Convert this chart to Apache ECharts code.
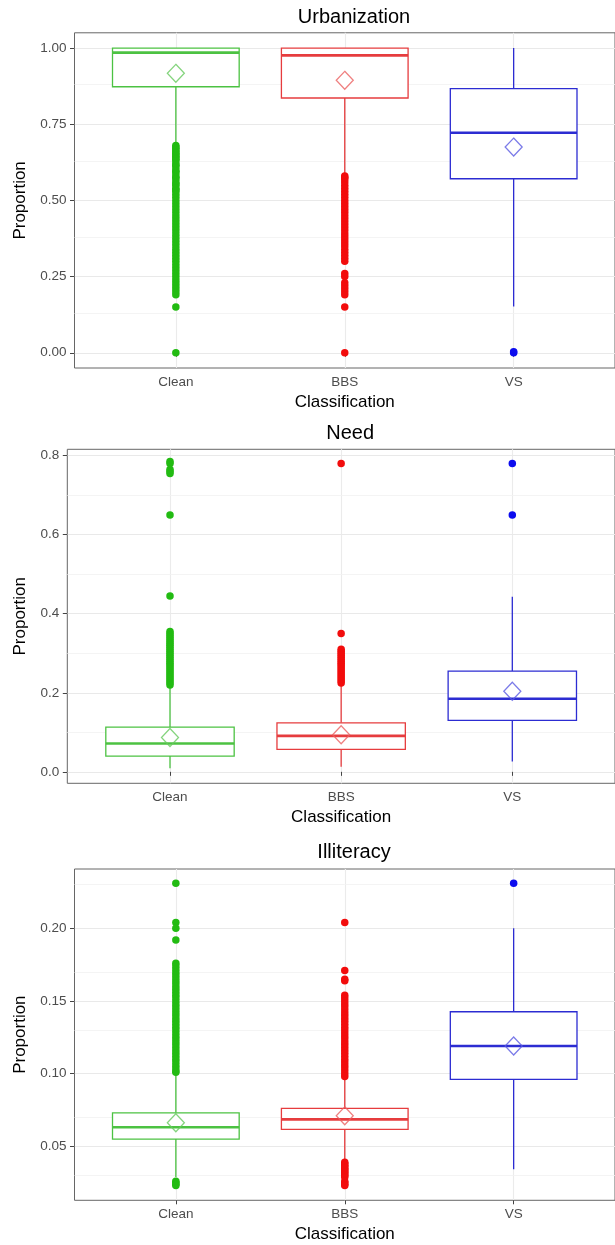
<!DOCTYPE html>
<html><head><meta charset="utf-8">
<script src="https://cdn.jsdelivr.net/npm/echarts@6/dist/echarts.min.js"></script>
<style>html,body{margin:0;padding:0;background:#fff}#c{width:615px;height:1245px}</style>
</head><body><div id="c"></div>
<script>
// ---------------- DATA ----------------
const categories = ['Clean', 'BBS', 'VS'];
const panelTitles = ['Urbanization', 'Need', 'Illiteracy'];
const xTitle = 'Classification';
const yTitle = 'Proportion';

// box stats: [lower whisker, Q1, median, Q3, upper whisker]
const urbBox = [[0.685, 0.873, 0.985, 1.0, 1.0], [0.59, 0.836, 0.976, 1.0, 1.0], [0.152, 0.571, 0.722, 0.867, 1.0]];
const urbMean = [0.917, 0.894, 0.675];
const urbOutClean = [0.68,0.675,0.67,0.665,0.66,0.655,0.65,0.645,0.64,0.635,0.63,0.62,0.615,0.61,0.6,0.595,0.59,0.58,0.575,0.57,0.56,0.555,0.55,0.54,0.535,0.53,0.52,0.51,0.5,0.49,0.48,0.47,0.46,0.45,0.44,0.43,0.42,0.41,0.4,0.39,0.38,0.37,0.36,0.35,0.34,0.33,0.32,0.31,0.3,0.29,0.28,0.27,0.26,0.25,0.24,0.23,0.22,0.21,0.2,0.19,0.15,0.0];
const urbOutBBS = [0.58,0.575,0.57,0.56,0.55,0.54,0.53,0.52,0.51,0.5,0.49,0.48,0.47,0.46,0.45,0.44,0.43,0.42,0.41,0.4,0.39,0.38,0.37,0.36,0.35,0.34,0.33,0.32,0.31,0.3,0.26,0.25,0.23,0.22,0.21,0.2,0.19,0.15,0.0];
const urbOutVS = [0.0, 0.003];
const urbTicks = [0, 0.25, 0.5, 0.75, 1.0];
const urbMinor = [0.125, 0.375, 0.625, 0.875];

const needBox = [[0.009, 0.040, 0.0716, 0.113, 0.216], [0.013, 0.057, 0.091, 0.124, 0.223], [0.026, 0.130, 0.185, 0.255, 0.443]];
const needMean = [0.087, 0.094, 0.204];
const needOutClean = [0.785,0.78,0.765,0.76,0.755,0.65,0.445,0.355,0.35,0.345,0.34,0.335,0.33,0.325,0.32,0.315,0.31,0.305,0.3,0.295,0.29,0.285,0.28,0.275,0.27,0.265,0.26,0.255,0.25,0.245,0.24,0.235,0.23,0.225,0.22];
const needOutBBS = [0.78,0.35,0.31,0.305,0.3,0.295,0.29,0.285,0.28,0.275,0.27,0.265,0.26,0.255,0.25,0.245,0.24,0.235,0.23,0.225];
const needOutVS = [0.78, 0.65];
const needTicks = [0, 0.2, 0.4, 0.6, 0.8];
const needMinor = [0.1, 0.3, 0.5, 0.7];

const illBox = [[0.029, 0.055, 0.0631, 0.0731, 0.1], [0.041, 0.0617, 0.0686, 0.0761, 0.0975], [0.0342, 0.0961, 0.119, 0.1426, 0.2]];
const illMean = [0.0662, 0.071, 0.119];
const illOutClean = [0.231,0.204,0.2,0.192,0.176,0.174,0.172,0.17,0.168,0.166,0.164,0.162,0.16,0.158,0.156,0.154,0.152,0.15,0.148,0.146,0.144,0.142,0.14,0.138,0.136,0.134,0.132,0.13,0.128,0.126,0.124,0.122,0.12,0.118,0.116,0.114,0.112,0.11,0.108,0.106,0.104,0.102,0.101,0.026,0.025,0.024,0.023];
const illOutBBS = [0.204,0.171,0.165,0.164,0.154,0.152,0.15,0.148,0.146,0.144,0.142,0.14,0.138,0.136,0.134,0.132,0.13,0.128,0.126,0.124,0.122,0.12,0.118,0.116,0.114,0.112,0.11,0.108,0.106,0.104,0.102,0.1,0.098,0.039,0.038,0.037,0.036,0.035,0.034,0.033,0.032,0.031,0.03,0.029,0.026,0.025,0.024,0.023];
const illOutVS = [0.231];
const illTicks = [0.05, 0.10, 0.15, 0.20];
const illMinor = [0.025, 0.075, 0.125, 0.175, 0.225];

// ---------------- STYLE / LAYOUT ----------------
const pointColors = ['#22bb12', '#f20c0c', '#0c0cee'];
const boxColors = ['#4cc242', '#e63c3e', '#2c2cd2'];
const meanColors = ['#66c95e', '#eb6060', '#5a5ae2'];
const FONT = 'Liberation Sans, Arial, Helvetica, sans-serif';

const panels = [
  { title: panelTitles[0], box: urbBox, mean: urbMean, out: [urbOutClean, urbOutBBS, urbOutVS], ticks: urbTicks, minor: urbMinor, dec: 2,
    grid: { left: 74.5, top: 32.8, width: 549, height: 335.2 }, yMin: -0.05, yMax: 1.05, titleTop: 2, yNameGap: 46 },
  { title: panelTitles[1], box: needBox, mean: needMean, out: [needOutClean, needOutBBS, needOutVS], ticks: needTicks, minor: needMinor, dec: 1,
    grid: { left: 67.3, top: 449.3, width: 555.8, height: 334 }, yMin: -0.029, yMax: 0.816, titleTop: 418, yNameGap: 38 },
  { title: panelTitles[2], box: illBox, mean: illMean, out: [illOutClean, illOutBBS, illOutVS], ticks: illTicks, minor: illMinor, dec: 2,
    grid: { left: 74.5, top: 869, width: 549, height: 331.3 }, yMin: 0.0129, yMax: 0.2408, titleTop: 837, yNameGap: 46 }
];

// discrete x scale with ggplot's 0.6 expansion: fine slots of 0.2 units from 0.4 to 3.6
const SLOT = 0.2, SLOT_START = 0.4, NSLOT = 17;
const slotLabels = [];
for (let i = 0; i < NSLOT; i++) {
  const pos = Math.round((SLOT_START + i * SLOT) * 10) / 10;
  const k = pos - 1;
  slotLabels.push(Number.isInteger(pos) && k >= 0 && k < categories.length ? categories[k] : '');
}
const catSlot = categories.map(c => slotLabels.indexOf(c));
const BOX_SLOTS = 0.75 / SLOT;
const isCat = (idx, val) => val !== '';

function renderBox(params, api) {
  const x = api.value(0);
  const pMin = api.coord([x, api.value(1)]);
  const pQ1 = api.coord([x, api.value(2)]);
  const pMed = api.coord([x, api.value(3)]);
  const pQ3 = api.coord([x, api.value(4)]);
  const pMax = api.coord([x, api.value(5)]);
  const half = api.size([1, 0])[0] * BOX_SLOTS / 2;
  const color = api.visual('color');
  const lw = 1.3;
  return {
    type: 'group',
    children: [
      { type: 'line', shape: { x1: pQ1[0], y1: pQ1[1], x2: pMin[0], y2: pMin[1] }, style: { stroke: color, lineWidth: lw } },
      { type: 'line', shape: { x1: pQ3[0], y1: pQ3[1], x2: pMax[0], y2: pMax[1] }, style: { stroke: color, lineWidth: lw } },
      { type: 'rect', shape: { x: pQ3[0] - half, y: pQ3[1], width: 2 * half, height: pQ1[1] - pQ3[1] }, style: { fill: '#fff', stroke: color, lineWidth: lw } },
      { type: 'line', shape: { x1: pMed[0] - half, y1: pMed[1], x2: pMed[0] + half, y2: pMed[1] }, style: { stroke: color, lineWidth: 2.6 } }
    ]
  };
}

const option = { animation: false, backgroundColor: '#fff', title: [], grid: [], xAxis: [], yAxis: [], series: [] };

panels.forEach((p, pi) => {
  option.title.push({
    text: p.title, left: p.grid.left + p.grid.width / 2, top: p.titleTop, textAlign: 'center',
    textStyle: { fontFamily: FONT, fontSize: 20, fontWeight: 'normal', color: '#000' }
  });
  option.grid.push(Object.assign({ show: true, borderColor: '#666', borderWidth: 1, backgroundColor: 'transparent', containLabel: false }, p.grid));
  option.xAxis.push({
    type: 'category', gridIndex: pi, data: slotLabels, boundaryGap: false,
    name: xTitle, nameLocation: 'middle', nameGap: 26,
    nameTextStyle: { fontFamily: FONT, fontSize: 17, color: '#000' },
    axisLine: { show: false },
    axisTick: { show: true, interval: isCat, length: 4, lineStyle: { color: '#444', width: 1 } },
    axisLabel: { interval: isCat, margin: 7, fontFamily: FONT, fontSize: 13.5, color: '#4d4d4d' },
    splitLine: { show: true, interval: isCat, lineStyle: { color: '#ebebeb', width: 1.1 } }
  });
  option.yAxis.push({
    type: 'value', gridIndex: pi, min: p.yMin, max: p.yMax,
    name: yTitle, nameLocation: 'middle', nameGap: p.yNameGap,
    nameTextStyle: { fontFamily: FONT, fontSize: 17, color: '#000' },
    axisLine: { show: false },
    axisTick: { show: true, customValues: p.ticks, length: 4.5, lineStyle: { color: '#444', width: 1 } },
    axisLabel: { customValues: p.ticks, margin: 8, fontFamily: FONT, fontSize: 13.5, color: '#4d4d4d',
      formatter: v => Number(v).toFixed(p.dec) },
    splitLine: { show: false }
  });
  // horizontal gridlines through the y scale (kept beneath the boxes)
  option.series.push({
    type: 'line', xAxisIndex: pi, yAxisIndex: pi, data: [], z: 0, silent: true,
    markLine: {
      z: 0, silent: true, symbol: 'none', label: { show: false }, animation: false,
      data: p.minor.map(v => ({ yAxis: v, lineStyle: { color: '#f1f1f1', width: 0.8, type: 'solid' } }))
        .concat(p.ticks.map(v => ({ yAxis: v, lineStyle: { color: '#e9e9e9', width: 1.1, type: 'solid' } })))
    }
  });
  // boxes
  option.series.push({
    type: 'custom', xAxisIndex: pi, yAxisIndex: pi, z: 2, silent: true,
    encode: { x: 0, y: [1, 2, 3, 4, 5] },
    renderItem: renderBox,
    data: p.box.map((b, k) => ({ value: [catSlot[k]].concat(b), itemStyle: { color: boxColors[k] } }))
  });
  // outliers
  p.out.forEach((arr, k) => {
    option.series.push({
      type: 'scatter', xAxisIndex: pi, yAxisIndex: pi, z: 3, silent: true,
      symbol: 'circle', symbolSize: 7.5,
      itemStyle: { color: pointColors[k], opacity: 1 },
      data: arr.map(v => [catSlot[k], v])
    });
  });
  // means
  option.series.push({
    type: 'scatter', xAxisIndex: pi, yAxisIndex: pi, z: 4, silent: true,
    symbol: 'diamond', symbolSize: [17, 18],
    data: p.mean.map((v, k) => ({ value: [catSlot[k], v], itemStyle: { color: 'rgba(255,255,255,0)', borderColor: meanColors[k], borderWidth: 1.3 } }))
  });
});

const chart = echarts.init(document.getElementById('c'), null, { renderer: 'canvas' });
chart.setOption(option);
</script>
</body></html>
